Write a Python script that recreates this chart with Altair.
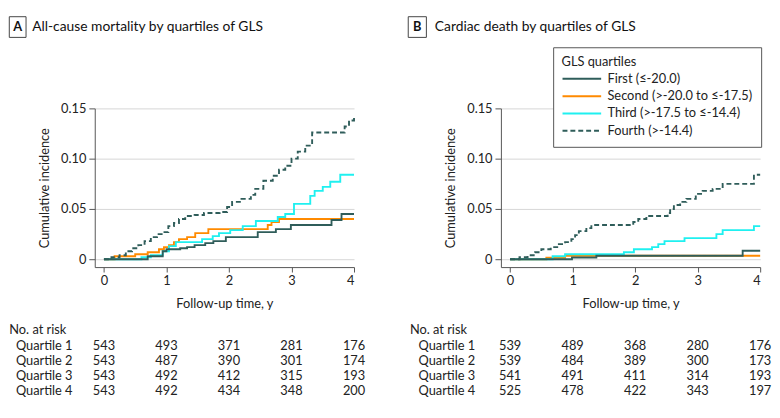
import altair as alt
import pandas as pd

FONT = "Lato"
SERIES = ["First (≤-20.0)", "Second (>-20.0 to ≤-17.5)", "Third (>-17.5 to ≤-14.4)", "Fourth (>-14.4)"]
COLORS = ["#2f5d5a", "#ff8a00", "#1ff0f0", "#2f5d5a"]
DASHES = [[1, 0], [1, 0], [1, 0], [5, 3]]
DRAW_ORDER = [1, 2, 0, 3]  # orange, cyan, dark solid, dashed (top)

# ---- Panel A: all-cause mortality ----
A1_T = [0, 0.70, 0.94, 1.00, 1.22, 1.33, 1.45, 1.62, 1.75, 1.95, 2.46, 2.75, 2.99, 3.64, 3.80, 4.00]
A1_Y = [0, 0.003, 0.008, 0.010, 0.011, 0.012, 0.014, 0.016, 0.018, 0.022, 0.027, 0.030, 0.034, 0.039, 0.045, 0.045]
A2_T = [0, 0.17, 0.50, 0.70, 0.88, 0.96, 1.04, 1.12, 1.20, 1.33, 1.46, 1.67, 2.62, 2.68, 2.80, 4.00]
A2_Y = [0, 0.003, 0.005, 0.007, 0.010, 0.012, 0.014, 0.017, 0.020, 0.022, 0.026, 0.030, 0.034, 0.037, 0.040, 0.040]
A3_T = [0, 0.60, 0.75, 0.94, 1.04, 1.15, 1.57, 1.74, 1.84, 2.02, 2.22, 2.43, 2.78, 2.90, 3.04, 3.30, 3.37, 3.50, 3.62, 3.78, 4.00]
A3_Y = [0, 0.002, 0.004, 0.008, 0.013, 0.017, 0.020, 0.023, 0.026, 0.029, 0.033, 0.038, 0.042, 0.045, 0.055, 0.063, 0.068, 0.072, 0.077, 0.084, 0.084]
A4_T = [0, 0.12, 0.25, 0.35, 0.45, 0.55, 0.65, 0.75, 0.85, 0.95, 1.03, 1.12, 1.20, 1.30, 1.45, 1.60, 1.85, 1.97, 2.05, 2.20,
        2.35, 2.42, 2.55, 2.70, 2.80, 2.90, 3.00, 3.10, 3.22, 3.33, 3.85, 3.92, 4.00]
A4_Y = [0, 0.002, 0.004, 0.008, 0.011, 0.014, 0.018, 0.022, 0.025, 0.027, 0.033, 0.036, 0.040, 0.043, 0.044, 0.046, 0.047,
        0.052, 0.057, 0.060, 0.064, 0.070, 0.078, 0.083, 0.089, 0.093, 0.100, 0.107, 0.113, 0.126, 0.132, 0.138, 0.142]

# ---- Panel B: cardiac death ----
B1_T = [0, 0.99, 1.38, 3.72, 4.00]
B1_Y = [0, 0.0017, 0.0035, 0.0085, 0.0085]
B2_T = [0, 0.58, 0.88, 4.00]
B2_Y = [0, 0.0015, 0.0035, 0.0035]
B3_T = [0, 0.68, 0.88, 1.82, 1.98, 2.27, 2.37, 2.47, 2.79, 3.30, 3.40, 3.90, 4.00]
B3_Y = [0, 0.003, 0.005, 0.007, 0.010, 0.012, 0.015, 0.018, 0.021, 0.025, 0.029, 0.033, 0.033]
B4_T = [0, 0.15, 0.28, 0.40, 0.50, 0.65, 0.78, 0.88, 0.98, 1.04, 1.10, 1.22, 1.30, 1.97, 2.05, 2.18, 2.52, 2.56, 2.62,
        2.72, 2.82, 2.97, 3.08, 3.24, 3.40, 3.90, 4.00]
B4_Y = [0, 0.002, 0.004, 0.007, 0.010, 0.012, 0.015, 0.017, 0.020, 0.024, 0.028, 0.031, 0.034, 0.037, 0.040, 0.043, 0.046,
        0.050, 0.054, 0.057, 0.060, 0.065, 0.068, 0.070, 0.075, 0.084, 0.084]

RISK_TIMES = [0, 1, 2, 3, 4]
ROW_LABELS = ["Quartile 1", "Quartile 2", "Quartile 3", "Quartile 4"]
A_RISK = [[543, 493, 371, 281, 176], [543, 487, 390, 301, 174], [543, 492, 412, 315, 193], [543, 492, 434, 348, 200]]
B_RISK = [[539, 489, 368, 280, 176], [539, 484, 389, 300, 173], [541, 491, 411, 314, 193], [525, 478, 422, 343, 197]]

A_TITLE = "All-cause mortality by quartiles of GLS"
B_TITLE = "Cardiac death by quartiles of GLS"

W, H = 263, 161
XSC = alt.Scale(domain=[-0.147, 4], nice=False, zero=False)
YSC = alt.Scale(domain=[-0.0078, 0.15], nice=False, zero=False)
XAX = alt.Axis(values=RISK_TIMES, format="d", title="Follow-up time, y", grid=False)
YAX = alt.Axis(values=[0, 0.05, 0.10, 0.15], title="Cumulative incidence", grid=True,
               labelExpr="datum.value == 0 ? '0' : format(datum.value, '.2f')")


def panel(letter, title, curves, risk, show_legend, lay):
    rows = []
    for name, (ts, ys) in zip(SERIES, curves):
        for t, v in zip(ts, ys):
            rows.append({"t": t, "v": v, "s": name})
    df = pd.DataFrame(rows)
    if show_legend:
        # wide horizontal stroke symbol (custom path, r = 7 px -> ±19.6 px)
        leg = alt.Legend(title="GLS quartiles", orient="none", legendX=53, legendY=-62,
                         padding=8.5, strokeColor="#555", fillColor="white", cornerRadius=0,
                         symbolType="M-2.8,0H2.8", symbolSize=196, symbolStrokeWidth=2,
                         symbolOffset=12.6, labelOffset=18, rowPadding=2.6, titlePadding=2.5,
                         labelLimit=400, titleFontWeight="normal", titleFontSize=13, labelFontSize=13,
                         titleColor="#222", labelColor="#222", titleFont=FONT, labelFont=FONT)
    else:
        leg = None
    layers = []
    for i in DRAW_ORDER:
        layers.append(alt.Chart(df).transform_filter(alt.datum.s == SERIES[i]).mark_line(
            interpolate="step-after", strokeWidth=1.9).encode(
            x=alt.X("t:Q", scale=XSC, axis=XAX),
            y=alt.Y("v:Q", scale=YSC, axis=YAX),
            color=alt.Color("s:N", scale=alt.Scale(domain=SERIES, range=COLORS), legend=leg),
            strokeDash=alt.StrokeDash("s:N", scale=alt.Scale(domain=SERIES, range=DASHES), legend=leg),
        ))
    one = pd.DataFrame({"k": [0]})
    # boxed panel letter
    layers.append(alt.Chart(one).mark_rect(fill="white", stroke="#444", strokeWidth=1).encode(
        x=alt.value(lay["box"][0]), x2=alt.value(lay["box"][1]), y=alt.value(-93), y2=alt.value(-72)))
    layers.append(alt.Chart(pd.DataFrame({"k": [letter]})).mark_text(
        fontWeight="bold", fontSize=13, font=FONT, color="#111", baseline="middle", align="center").encode(
        x=alt.value((lay["box"][0] + lay["box"][1]) / 2), y=alt.value(-82), text="k:N"))
    layers.append(alt.Chart(pd.DataFrame({"k": [title]})).mark_text(
        fontSize=14, font=FONT, color="#111", baseline="middle", align="left").encode(
        x=alt.value(lay["title"]), y=alt.value(-82), text="k:N"))
    # number at risk table
    layers.append(alt.Chart(pd.DataFrame({"k": ["No. at risk"]})).mark_text(
        fontSize=13, font=FONT, color="#222", baseline="middle", align="left").encode(
        x=alt.value(lay["nar"]), y=alt.value(225), text="k:N"))
    row_y = [241.5, 256.8, 272, 287]
    for lab, counts, yy in zip(ROW_LABELS, risk, row_y):
        layers.append(alt.Chart(pd.DataFrame({"k": [lab]})).mark_text(
            fontSize=13, font=FONT, color="#222", baseline="middle", align="left").encode(
            x=alt.value(lay["q"]), y=alt.value(yy), text="k:N"))
        layers.append(alt.Chart(pd.DataFrame({"t": RISK_TIMES, "n": counts})).mark_text(
            fontSize=13, font=FONT, color="#222", baseline="middle", align="center").encode(
            x=alt.X("t:Q", scale=XSC, axis=XAX), y=alt.value(yy), text="n:Q"))
    ch = alt.layer(*layers).properties(width=W, height=H)
    return ch


pa = panel("A", A_TITLE, [(A1_T, A1_Y), (A2_T, A2_Y), (A3_T, A3_Y), (A4_T, A4_Y)], A_RISK, False,
           {"box": [-86.7, -69.7], "title": -63.5, "nar": -86.7, "q": -80})
pb = panel("B", B_TITLE, [(B1_T, B1_Y), (B2_T, B2_Y), (B3_T, B3_Y), (B4_T, B4_Y)], B_RISK, True,
           {"box": [-94, -75.6], "title": -67, "nar": -92.3, "q": -83.6})

chart = alt.hconcat(pa, pb, spacing=42).resolve_legend(
    color="independent", strokeDash="independent"
).properties(
    padding={"left": 0, "top": 5, "right": 0, "bottom": 0}
).configure(font=FONT).configure_view(stroke=None).configure_axis(
    labelFont=FONT, titleFont=FONT, labelFontSize=13, titleFontSize=13,
    labelColor="#222", titleColor="#222", titleFontWeight="normal",
    domainColor="#555", tickColor="#555", gridColor="#d6d6d6",
).configure_axisX(tickSize=5, labelPadding=3, titlePadding=10).configure_axisY(
    tickSize=6, labelPadding=3, titlePadding=9)

chart.save("out.html", embed_options={"renderer": "svg", "actions": False})
